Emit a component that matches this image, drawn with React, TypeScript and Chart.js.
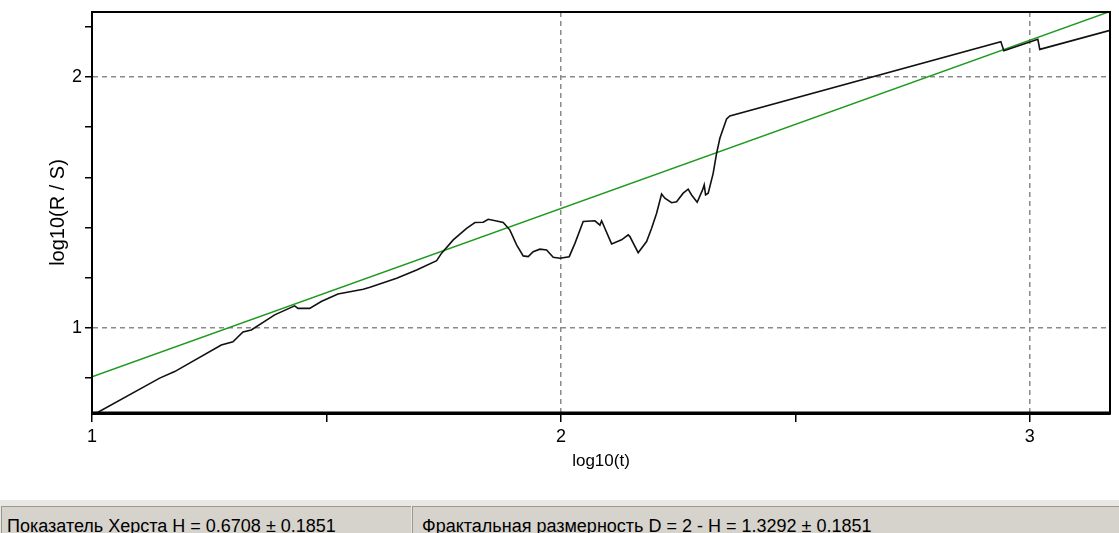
import { useEffect, useRef } from 'react';
import { Chart, registerables } from 'chart.js';

Chart.register(...registerables);

// R/S analysis curve: log10(t) against log10(R/S)
const logT = [
  1.0, 1.0128, 1.1443, 1.1763, 1.2757, 1.3006, 1.322, 1.3397, 1.3896, 1.4322,
  1.4392, 1.4642, 1.4889, 1.5245, 1.5785, 1.5928, 1.6497, 1.6923, 1.735, 1.7456,
  1.7704, 1.7989, 1.8166, 1.8343, 1.845, 1.8629, 1.877, 1.8913, 1.9055, 1.9196,
  1.9303, 1.9409, 1.9552, 1.9695, 1.9836, 1.9979, 2.0177, 2.0299, 2.0475, 2.0725,
  2.0832, 2.0868, 2.1081, 2.1294, 2.1435, 2.1471, 2.1648, 2.1827, 2.1934, 2.2041,
  2.2147, 2.2217, 2.236, 2.2467, 2.2608, 2.2714, 2.2787, 2.2906, 2.3021, 2.3056,
  2.3085, 2.3141, 2.3247, 2.332, 2.339, 2.3533, 2.3603, 2.9382, 2.9446, 3.0171,
  3.0213, 3.171,
];
const logRS = [
  0.661, 0.664, 0.8, 0.826, 0.932, 0.945, 0.984, 0.992, 1.052, 1.088,
  1.078, 1.078, 1.105, 1.135, 1.154, 1.162, 1.198, 1.231, 1.268, 1.298,
  1.351, 1.397, 1.42, 1.421, 1.433, 1.426, 1.42, 1.39, 1.331, 1.287,
  1.284, 1.304, 1.314, 1.311, 1.282, 1.278, 1.284, 1.337, 1.424, 1.427,
  1.41, 1.427, 1.335, 1.351, 1.371, 1.364, 1.3, 1.344, 1.397, 1.457,
  1.534, 1.517, 1.499, 1.503, 1.537, 1.553, 1.53, 1.501, 1.55, 1.57,
  1.53, 1.537, 1.616, 1.696, 1.756, 1.833, 1.845, 2.141, 2.105, 2.15,
  2.11, 2.186,
];

// Least-squares fit line (slope = Hurst exponent)
const fitT = [1.0, 3.171];
const fitRS = [0.805, 2.261];

const xTicks = [1, 1.5, 2, 2.5, 3];
const yTicks = [0.8, 1.0, 1.2, 1.4, 1.6, 1.8, 2.0, 2.2];
const xLabelled = [1, 2, 3];
const yLabelled = [1, 2];
const xGridAt = [2, 3];
const yGridAt = [1, 2];

const X_MIN = 1;
const X_MAX = 3.171;
const Y_MIN = 0.661;
const Y_MAX = 2.259;

const hurstH = '0.6708';
const hurstErr = '0.1851';
const fractalD = '1.3292';

const FONT = '"Liberation Sans", Arial, sans-serif';

const isOneOf = (v: number, list: number[]) => list.some((t) => Math.abs(t - v) < 1e-6);

const framePlugin = {
  id: 'plotFrame',
  afterDraw(chart: any) {
    const { ctx, chartArea } = chart;
    const { left, right, top, bottom } = chartArea;
    ctx.save();
    ctx.strokeStyle = '#000';
    ctx.setLineDash([]);
    ctx.lineWidth = 2;
    ctx.beginPath();
    ctx.moveTo(left, bottom);
    ctx.lineTo(left, top);
    ctx.lineTo(right, top);
    ctx.lineTo(right, bottom);
    ctx.stroke();
    ctx.lineWidth = 3;
    ctx.beginPath();
    ctx.moveTo(left - 1, bottom);
    ctx.lineTo(right + 1, bottom);
    ctx.stroke();
    ctx.restore();
  },
};

function RSChart() {
  const ref = useRef<HTMLCanvasElement | null>(null);

  useEffect(() => {
    if (!ref.current) return;
    const chart = new Chart(ref.current, {
      type: 'line',
      data: {
        datasets: [
          {
            label: 'R/S',
            data: logT.map((t, i) => ({ x: t, y: logRS[i] })),
            borderColor: '#111111',
            borderWidth: 1.6,
            pointRadius: 0,
            tension: 0,
            fill: false,
          },
          {
            label: 'fit',
            data: fitT.map((t, i) => ({ x: t, y: fitRS[i] })),
            borderColor: '#1e9a1e',
            borderWidth: 1.5,
            pointRadius: 0,
            tension: 0,
            fill: false,
          },
        ],
      },
      options: {
        animation: false,
        responsive: false,
        devicePixelRatio: 1,
        layout: { padding: { left: 0, right: 9, top: 12, bottom: 0 } },
        plugins: {
          legend: { display: false },
          tooltip: { enabled: false },
        },
        scales: {
          x: {
            type: 'linear',
            min: X_MIN,
            max: X_MAX,
            afterBuildTicks: (s: any) => {
              s.ticks = xTicks.map((v) => ({ value: v }));
            },
            afterFit: (s: any) => {
              s.height = 77;
              s.paddingLeft = 0;
              s.paddingRight = 0;
            },
            ticks: {
              autoSkip: false,
              maxRotation: 0,
              color: '#000',
              padding: 4,
              font: { family: FONT, size: 18, lineHeight: 1.2 },
              callback: (v: any) => (isOneOf(Number(v), xLabelled) ? String(Math.round(Number(v))) : ''),
            },
            grid: {
              color: (c: any) => (c.tick && isOneOf(c.tick.value, xGridAt) ? '#8a8a8a' : 'rgba(0,0,0,0)'),
              lineWidth: 1.5,
              tickColor: '#000',
              tickLength: 9,
              tickWidth: 1.5,
              tickBorderDash: [],
            },
            border: { display: true, color: '#000', width: 3, dash: [5, 4] },
            title: {
              display: true,
              text: 'log10(t)',
              color: '#000',
              font: { family: FONT, size: 17, lineHeight: 1.2 },
              padding: { top: 0, bottom: 18 },
            },
          },
          y: {
            type: 'linear',
            min: Y_MIN,
            max: Y_MAX,
            afterBuildTicks: (s: any) => {
              s.ticks = yTicks.map((v) => ({ value: v }));
            },
            afterFit: (s: any) => {
              s.width = 92;
              s.paddingTop = 0;
              s.paddingBottom = 0;
            },
            ticks: {
              autoSkip: false,
              color: '#000',
              padding: 3,
              font: { family: FONT, size: 18, lineHeight: 1.2 },
              callback: (v: any) => (isOneOf(Number(v), yLabelled) ? String(Math.round(Number(v))) : ''),
            },
            grid: {
              color: (c: any) => (c.tick && isOneOf(c.tick.value, yGridAt) ? '#8a8a8a' : 'rgba(0,0,0,0)'),
              lineWidth: 1.5,
              tickColor: '#000',
              tickLength: 7,
              tickWidth: 1.5,
              tickBorderDash: [],
            },
            border: { display: true, color: '#000', width: 2, dash: [5, 4] },
            title: {
              display: true,
              text: 'log10(R / S)',
              color: '#000',
              font: { family: FONT, size: 20, lineHeight: 1.2 },
              padding: { top: 46, bottom: 0 },
            },
          },
        },
      },
      plugins: [framePlugin],
    } as any);
    return () => chart.destroy();
  }, []);

  return <canvas ref={ref} width={1119} height={490} style={{ display: 'block' }} />;
}

const panelStyle: any = {
  position: 'absolute',
  top: 6,
  height: 30,
  background: '#d6d3cd',
  borderTop: '1px solid #9b9892',
  borderLeft: '1px solid #9b9892',
  boxSizing: 'border-box',
  fontFamily: FONT,
  fontSize: 18,
  color: '#000',
  paddingTop: 9,
  whiteSpace: 'nowrap',
  overflow: 'hidden',
};

export default function App() {
  useEffect(() => {
    document.body.style.margin = '0';
  }, []);

  return (
    <div style={{ position: 'relative', width: 1119, height: 533, background: '#fff', overflow: 'hidden' }}>
      <RSChart />
      <div
        style={{
          position: 'absolute',
          left: 0,
          top: 500,
          width: 1119,
          height: 40,
          background: '#e9e7e3',
        }}
      >
        <div style={{ ...panelStyle, left: 1, width: 410, paddingLeft: 5 }}>
          {`Показатель Херста H = ${hurstH} ± ${hurstErr}`}
        </div>
        <div style={{ ...panelStyle, left: 412, width: 707, paddingLeft: 9 }}>
          {`Фрактальная размерность D = 2 - H = ${fractalD} ± ${hurstErr}`}
        </div>
      </div>
    </div>
  );
}
